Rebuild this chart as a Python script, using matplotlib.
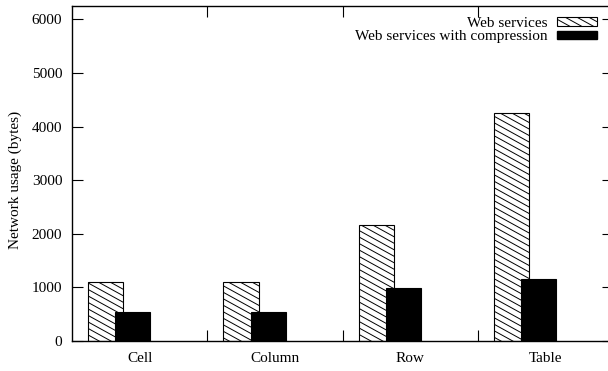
import numpy as np
import matplotlib
matplotlib.use("Agg")
import matplotlib.pyplot as plt
from matplotlib.collections import LineCollection
from matplotlib.legend_handler import HandlerPatch
from matplotlib.patches import Rectangle

categories = ["Cell", "Column", "Row", "Table"]
plain = [1100, 1100, 2162, 4256]
compressed = [548, 536, 985, 1159]
series_names = ["Web services", "Web services with compression"]
yticks = [0, 1000, 2000, 3000, 4000, 5000, 6000]

plt.rcParams['font.family'] = ['Liberation Serif', 'DejaVu Serif']
plt.rcParams['font.size'] = 11

SLOPE = 0.55   # hatch lines fall this much per unit of width
STEP = 0.065   # vertical gap between hatch lines, inches


def slant_segments(x0, y0, w, h, step):
    # parallel lines running down to the right, covering the box
    segs = []
    c = y0
    while c <= y0 + h + SLOPE * w + step:
        segs.append([(x0, c), (x0 + w, c - SLOPE * w)])
        c += step
    return segs


class SlantHatchHandler(HandlerPatch):
    def create_artists(self, legend, orig_handle, xdescent, ydescent,
                       width, height, fontsize, trans):
        box = Rectangle((-xdescent, -ydescent), width, height,
                        facecolor='white', edgecolor='black', lw=0.8,
                        transform=trans)
        lines = LineCollection(slant_segments(-xdescent, -ydescent, width,
                                              height, STEP * 72),
                               colors='black', linewidths=0.7,
                               transform=trans)
        lines.set_clip_path(box)
        return [box, lines]


fig = plt.figure(figsize=(6.08, 3.71), dpi=100)
ax = fig.add_axes([72 / 608, 30 / 371, 541 / 608, 335 / 371])

x = np.arange(len(categories))
width = 0.26
b1 = ax.bar(x - 0.25, plain, width, facecolor='white', edgecolor='black',
            lw=0.8, zorder=2)
b2 = ax.bar(x - 0.05, compressed, width, facecolor='black',
            edgecolor='black', lw=0.8, zorder=4)

# slanted hatching on the plain bars
fw, fh = fig.get_size_inches()
for bar in b1:
    lc = LineCollection(slant_segments(0, 0, fw, fh, STEP), colors='black',
                        linewidths=0.7, transform=fig.dpi_scale_trans,
                        zorder=3)
    ax.add_collection(lc, autolim=False)
    lc.set_clip_path(bar)

ax.set_xlim(-0.5, 3.5)
ax.set_ylim(0, 6250)
ax.set_yticks(yticks)
ax.set_xticks(x)
ax.set_xticklabels(categories)
ax.set_xticks(x[:-1] + 0.5, minor=True)
ax.tick_params(axis='x', which='major', length=0, pad=8)
ax.tick_params(axis='x', which='minor', direction='in', length=8,
               top=True, width=0.8)
ax.tick_params(axis='y', direction='in', length=8, left=True, right=True,
               width=0.8, pad=7)
ax.tick_params(axis='y', which='minor', left=False, right=False)
for s in ax.spines.values():
    s.set_linewidth(1.0)

ax.set_ylabel("Network usage (bytes)")
ax.yaxis.set_label_coords(-0.093, 0.48)

handles = [Rectangle((0, 0), 1, 1, facecolor='white', edgecolor='black'),
           Rectangle((0, 0), 1, 1, facecolor='black', edgecolor='black')]
ax.legend(handles, series_names, handler_map={handles[0]: SlantHatchHandler()},
          loc='upper right', bbox_to_anchor=(597 / 608, 1 - 17 / 371),
          bbox_transform=fig.transFigure, frameon=False, markerfirst=False,
          handlelength=2.6, handleheight=0.49, handletextpad=0.65,
          labelspacing=0.02, borderpad=0, borderaxespad=0)

fig.savefig("out.png", dpi=100)
